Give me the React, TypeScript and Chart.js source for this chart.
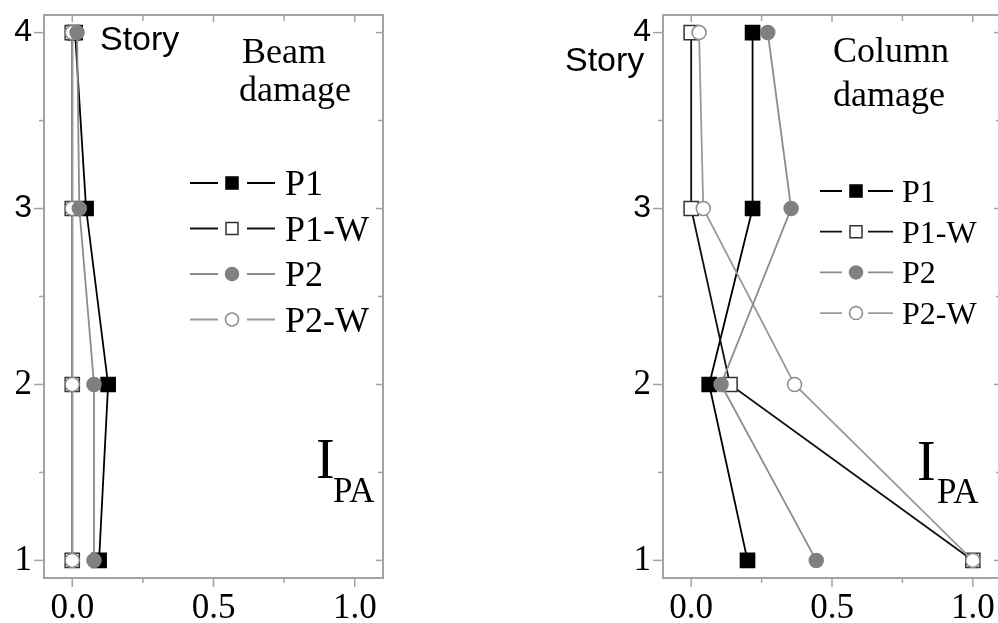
import React, { useEffect, useRef } from "react";
import { Chart, registerables } from "chart.js";

Chart.register(...registerables);

// ---------- data ----------
const stories = [1, 2, 3, 4];
const seriesNames = ["P1", "P1-W", "P2", "P2-W"];

const beamP1 = [0.095, 0.127, 0.049, 0.01];
const beamP1W = [0, 0, 0, 0];
const beamP2 = [0.077, 0.077, 0.025, 0.017];
const beamP2W = [0, 0, 0, 0];

const colP1 = [0.2, 0.064, 0.218, 0.218];
const colP1W = [1.0, 0.138, 0, 0];
const colP2 = [0.444, 0.106, 0.355, 0.272];
const colP2W = [1.0, 0.367, 0.043, 0.028];

const xMajorTicks = [0, 0.5, 1.0];
const xMinorTicks = [0.25, 0.75];
const yMajorTicks = [1, 2, 3, 4];
const yMinorTicks = [1.5, 2.5, 3.5];

// ---------- styles ----------
const SERIF = "'Liberation Serif', 'Times New Roman', serif";
const SANS = "'Liberation Sans', Arial, sans-serif";
const AXIS_GRAY = "#a3a3a3";

type SeriesStyle = { line: string; fill: string; border: string; shape: "rect" | "circle"; order: number };
const styles: SeriesStyle[] = [
  { line: "#000000", fill: "#000000", border: "#000000", shape: "rect", order: 4 },
  { line: "#111111", fill: "#ffffff", border: "#333333", shape: "rect", order: 3 },
  { line: "#8c8c8c", fill: "#808080", border: "#808080", shape: "circle", order: 1 },
  { line: "#9a9a9a", fill: "#ffffff", border: "#8c8c8c", shape: "circle", order: 2 },
];

type PanelCfg = {
  values: number[][];
  canvasLeft: number;
  canvasWidth: number;
  yAxisWidth: number;
  padRight: number;
  legend: { x1: number; x2: number; mx: number; x3: number; x4: number; tx: number; y0: number; dy: number; font: number; dBase: number; ms: number };
  titleLines: { text: string; x: number; y: number }[];
  story: { x: number; y: number };
  ipa: { ix: number; iy: number; px: number; py: number };
};

const panels: PanelCfg[] = [
  {
    values: [beamP1, beamP1W, beamP2, beamP2W],
    canvasLeft: 0,
    canvasWidth: 400,
    yAxisWidth: 44,
    padRight: 17,
    legend: { x1: 190, x2: 218, mx: 232, x3: 247, x4: 275, tx: 285, y0: 183, dy: 45.5, font: 36, dBase: 12, ms: 12 },
    titleLines: [
      { text: "Beam", x: 242, y: 63 },
      { text: "damage", x: 239, y: 101 },
    ],
    story: { x: 100, y: 50 },
    ipa: { ix: 316, iy: 478, px: 333, py: 502 },
  },
  {
    values: [colP1, colP1W, colP2, colP2W],
    canvasLeft: 540,
    canvasWidth: 480,
    yAxisWidth: 123,
    padRight: 19,
    legend: { x1: 820, x2: 842, mx: 856, x3: 868, x4: 893, tx: 902, y0: 191, dy: 40.7, font: 32, dBase: 11, ms: 12 },
    titleLines: [
      { text: "Column", x: 833, y: 62 },
      { text: "damage", x: 833, y: 106 },
    ],
    story: { x: 565, y: 71 },
    ipa: { ix: 917, iy: 480, px: 937, py: 503 },
  },
];

function drawMarker(ctx: CanvasRenderingContext2D, st: SeriesStyle, x: number, y: number, size: number) {
  ctx.save();
  ctx.beginPath();
  if (st.shape === "rect") {
    ctx.rect(x - size / 2, y - size / 2, size, size);
  } else {
    ctx.arc(x, y, size / 2 + 0.5, 0, Math.PI * 2);
  }
  ctx.fillStyle = st.fill;
  ctx.fill();
  ctx.lineWidth = 1.5;
  ctx.strokeStyle = st.border;
  ctx.stroke();
  ctx.restore();
}

function makePlugin(cfg: PanelCfg) {
  return {
    id: "decor",
    beforeDatasetsDraw(chart: any) {
      const ctx: CanvasRenderingContext2D = chart.ctx;
      const { left, right, top, bottom } = chart.chartArea;
      const xs = chart.scales.x;
      const ys = chart.scales.y;
      ctx.save();
      ctx.strokeStyle = AXIS_GRAY;
      ctx.lineWidth = 2;
      ctx.strokeRect(left, top, right - left, bottom - top);
      ctx.lineWidth = 1.5;
      const seg = (x1: number, y1: number, x2: number, y2: number) => {
        ctx.beginPath();
        ctx.moveTo(x1, y1);
        ctx.lineTo(x2, y2);
        ctx.stroke();
      };
      xMajorTicks.forEach((v) => {
        const px = xs.getPixelForValue(v);
        seg(px, bottom, px, bottom + 9);
        seg(px, top, px, top + 7);
      });
      xMinorTicks.forEach((v) => {
        const px = xs.getPixelForValue(v);
        seg(px, bottom, px, bottom + 5);
        seg(px, top, px, top + 6);
      });
      yMajorTicks.forEach((v) => {
        const py = ys.getPixelForValue(v);
        seg(left - 10, py, left, py);
        seg(right - 7, py, right, py);
      });
      yMinorTicks.forEach((v) => {
        const py = ys.getPixelForValue(v);
        seg(left - 5, py, left, py);
        seg(right - 5, py, right, py);
      });
      ctx.restore();
    },
    afterDraw(chart: any) {
      const ctx: CanvasRenderingContext2D = chart.ctx;
      const off = cfg.canvasLeft;
      const L = cfg.legend;
      ctx.save();
      // legend
      seriesNames.forEach((name, i) => {
        const st = styles[i];
        const y = L.y0 + i * L.dy;
        ctx.strokeStyle = st.line;
        ctx.lineWidth = 1.8;
        ctx.beginPath();
        ctx.moveTo(L.x1 - off, y);
        ctx.lineTo(L.x2 - off, y);
        ctx.moveTo(L.x3 - off, y);
        ctx.lineTo(L.x4 - off, y);
        ctx.stroke();
        drawMarker(ctx, st, L.mx - off, y, L.ms);
        ctx.fillStyle = "#000";
        ctx.font = `${L.font}px ${SERIF}`;
        ctx.textAlign = "left";
        ctx.textBaseline = "alphabetic";
        ctx.fillText(name, L.tx - off, y + L.dBase);
      });
      // title lines
      ctx.fillStyle = "#000";
      ctx.font = `36px ${SERIF}`;
      cfg.titleLines.forEach((t) => ctx.fillText(t.text, t.x - off, t.y));
      // Story
      ctx.font = `34px ${SANS}`;
      ctx.fillText("Story", cfg.story.x - off, cfg.story.y);
      // I_PA
      ctx.font = `56px ${SERIF}`;
      ctx.fillText("I", cfg.ipa.ix - off, cfg.ipa.iy);
      ctx.font = `35px ${SERIF}`;
      ctx.fillText("PA", cfg.ipa.px - off, cfg.ipa.py);
      ctx.restore();
    },
  };
}

function Panel({ cfg }: { cfg: PanelCfg }) {
  const ref = useRef<HTMLCanvasElement | null>(null);
  useEffect(() => {
    if (!ref.current) return;
    const datasets = cfg.values.map((arr, i) => ({
      label: seriesNames[i],
      data: stories.map((s, j) => ({ x: arr[j], y: s })),
      showLine: true,
      borderColor: styles[i].line,
      borderWidth: 1.8,
      pointStyle: styles[i].shape,
      pointRadius: styles[i].shape === "rect" ? 10 : 7,
      pointBackgroundColor: styles[i].fill,
      pointBorderColor: styles[i].border,
      pointBorderWidth: 1.5,
      order: styles[i].order,
      tension: 0,
      clip: 10,
    }));
    const chart = new Chart(ref.current, {
      type: "scatter",
      data: { datasets },
      plugins: [makePlugin(cfg)],
      options: {
        animation: false,
        responsive: false,
        events: [],
        layout: { padding: { top: 15, right: cfg.padRight, left: 0, bottom: 0 } },
        plugins: { legend: { display: false }, tooltip: { enabled: false } },
        scales: {
          x: {
            type: "linear",
            min: -0.1,
            max: 1.1,
            afterBuildTicks: (s: any) => {
              s.ticks = xMajorTicks.map((v) => ({ value: v }));
            },
            afterFit: (s: any) => {
              s.height = 45;
              s.paddingLeft = 0;
              s.paddingRight = 0;
            },
            grid: { display: false, drawTicks: false },
            border: { display: false },
            ticks: {
              autoSkip: false,
              maxRotation: 0,
              padding: 10,
              color: "#000",
              font: { family: SERIF, size: 35 },
              callback: (v: any) => Number(v).toFixed(1),
            },
          },
          y: {
            type: "linear",
            min: 0.9,
            max: 4.1,
            afterBuildTicks: (s: any) => {
              s.ticks = yMajorTicks.map((v) => ({ value: v }));
            },
            afterFit: (s: any) => {
              s.width = cfg.yAxisWidth;
              s.paddingTop = 0;
              s.paddingBottom = 0;
            },
            grid: { display: false, drawTicks: false },
            border: { display: false },
            ticks: {
              autoSkip: false,
              padding: 12,
              color: "#000",
              font: (c: any) =>
                c.tick && c.tick.value >= 3
                  ? { family: SANS, size: 32, lineHeight: 0.2 }
                  : { family: SERIF, size: 35, lineHeight: 0.2 },
              callback: (v: any) => String(v),
            },
          },
        },
      } as any,
    });
    return () => chart.destroy();
  }, [cfg]);
  return (
    <div style={{ position: "absolute", left: cfg.canvasLeft, top: 0, width: cfg.canvasWidth, height: 623 }}>
      <canvas ref={ref} width={cfg.canvasWidth} height={623} style={{ width: cfg.canvasWidth, height: 623, display: "block" }} />
    </div>
  );
}

export default function App() {
  return (
    <div
      style={{
        position: "fixed",
        left: 0,
        top: 0,
        width: 998,
        height: 623,
        overflow: "hidden",
        background: "#fff",
      }}
    >
      {panels.map((p, i) => (
        <Panel key={i} cfg={p} />
      ))}
    </div>
  );
}
